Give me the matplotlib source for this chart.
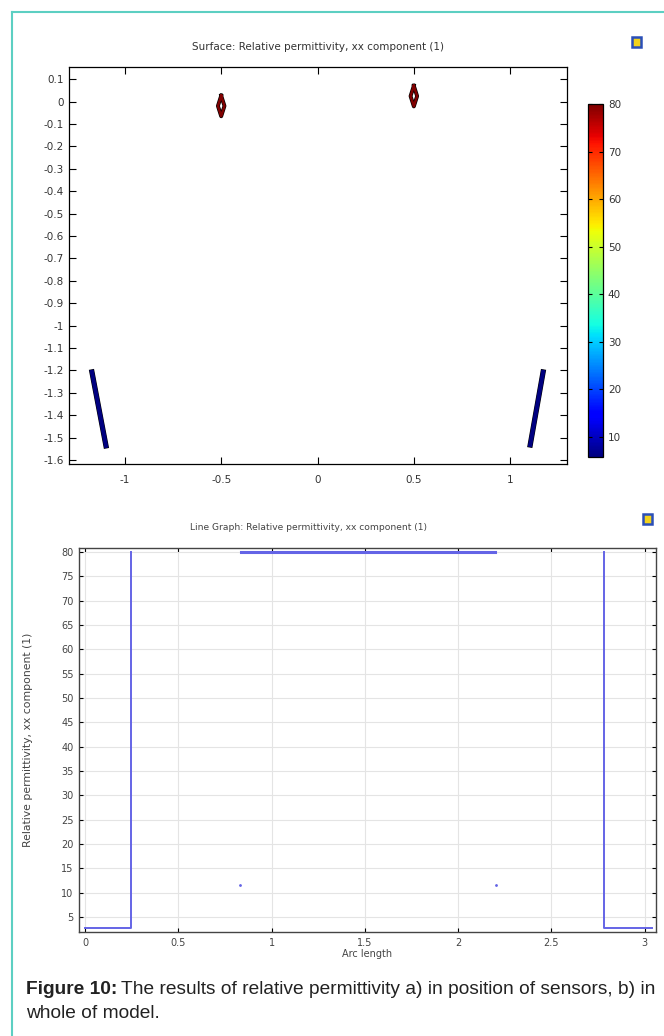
import matplotlib
matplotlib.use('Agg')
import matplotlib.pyplot as plt
import matplotlib.patheffects as pe
from matplotlib.patches import Rectangle
import numpy as np

# ---- surface plot data (sensor positions) ----
diamond_cx = [-0.5, 0.5]
diamond_cy = [-0.019, 0.025]
diamond_hw = 0.017
diamond_hh = 0.046
diamond_val = 80

bar_x = [[-1.171, -1.098], [1.171, 1.104]]
bar_y = [[-1.207, -1.537], [-1.207, -1.533]]
bar_val = 6

vmin, vmax = 5.8, 80
cb_ticks = [10, 20, 30, 40, 50, 60, 70, 80]
x_ticks_top = [-1, -0.5, 0, 0.5, 1]
y_ticks_top = np.round(np.arange(-1.6, 0.15, 0.1), 1)

# ---- line graph data ----
arc_left = [0, 0.245, 0.245, 0.248, 0.248]
eps_left = [2.7, 2.7, 5.8, 5.8, 80]
arc_mid = [0.835, 2.196]
eps_mid = [80, 80]
arc_right = [2.78, 2.78, 2.783, 2.783, 3.04]
eps_right = [80, 5.8, 5.8, 2.7, 2.7]
dot_arc = [0.83, 2.2]
dot_eps = [11.5, 11.5]
x_ticks_bot = [0, 0.5, 1, 1.5, 2, 2.5, 3]
y_ticks_bot = list(range(5, 81, 5))

caption_bold = 'Figure 10:'
caption_line1 = 'The results of relative permittivity a) in position of sensors, b) in'
caption_line2 = 'whole of model.'

W, H = 664, 1036
fig = plt.figure(figsize=(W / 100, H / 100), dpi=100)
fig.patch.set_facecolor('white')

cmap = plt.cm.jet
norm = matplotlib.colors.Normalize(vmin=vmin, vmax=vmax)
tc = '#333333'

# teal frame
fig.add_artist(plt.Line2D([12 / W, 12 / W], [0, 1 - 12 / H], color='#5ccfc2', lw=1.5))
fig.add_artist(plt.Line2D([12 / W, 1], [1 - 12 / H, 1 - 12 / H], color='#5ccfc2', lw=1.5))

# ---- top: surface ----
ax1 = fig.add_axes([69 / W, 1 - 464 / H, 498 / W, 397 / H])
for cx, cy in zip(diamond_cx, diamond_cy):
    xs = [cx, cx + diamond_hw, cx, cx - diamond_hw, cx]
    ys = [cy + diamond_hh, cy, cy - diamond_hh, cy, cy + diamond_hh]
    ax1.plot(xs, ys, color=cmap(norm(diamond_val)), lw=1.8,
             path_effects=[pe.Stroke(linewidth=2.8, foreground='black'), pe.Normal()])
for xs, ys in zip(bar_x, bar_y):
    ax1.plot(xs, ys, color=cmap(norm(bar_val)), lw=3,
             path_effects=[pe.Stroke(linewidth=3.8, foreground='black'), pe.Normal()])
ax1.set_xlim(-1.29, 1.295)
ax1.set_ylim(-1.618, 0.155)
ax1.set_xticks(x_ticks_top)
ax1.set_xticklabels(['-1', '-0.5', '0', '0.5', '1'])
ax1.set_yticks(y_ticks_top)
ax1.set_yticklabels(['0' if v == 0 else ('%g' % v) for v in y_ticks_top])
ax1.tick_params(direction='in', top=True, right=True, labelsize=7.5, colors='black',
                labelcolor=tc, length=5, width=0.8, pad=4)
ax1.tick_params(axis='x', pad=8)
for s in ax1.spines.values():
    s.set_linewidth(0.9)
ax1.set_title('Surface: Relative permittivity, xx component (1)', fontsize=7.5, color=tc, pad=12)

cax = fig.add_axes([588 / W, 1 - 457 / H, 15 / W, 353 / H])
sm = matplotlib.cm.ScalarMappable(norm=norm, cmap=cmap)
cb = fig.colorbar(sm, cax=cax, ticks=cb_ticks)
cb.ax.tick_params(direction='in', labelsize=7.5, labelcolor=tc, length=3, width=0.8, left=True)
cb.outline.set_linewidth(0.9)

# ---- bottom: line graph ----
lc = '#6464e6'
ax2 = fig.add_axes([79 / W, 1 - 932 / H, 577 / W, 384 / H])
ax2.plot(arc_left, eps_left, color=lc, lw=1.4)
ax2.plot(arc_mid, eps_mid, color=lc, lw=2.2)
ax2.plot(arc_right, eps_right, color=lc, lw=1.4)
ax2.plot(dot_arc, dot_eps, ls='none', marker='.', ms=2, color=lc)
ax2.set_xlim(-0.032, 3.06)
ax2.set_ylim(1.9, 80.8)
ax2.set_xticks(x_ticks_bot)
ax2.set_xticklabels(['0', '0.5', '1', '1.5', '2', '2.5', '3'])
ax2.set_yticks(y_ticks_bot)
ax2.grid(True, color='#e4e4e4', lw=0.8)
ax2.tick_params(direction='in', top=True, right=True, labelsize=7, labelcolor='#444444',
                length=3, width=0.8, pad=4)
for s in ax2.spines.values():
    s.set_linewidth(1.0)
    s.set_color('#444444')
ax2.set_xlabel('Arc length', fontsize=7, color='#444444', labelpad=1)
ax2.set_ylabel('Relative permittivity, xx component (1)', fontsize=7.8, color='#444444', labelpad=20)
fig.text(308 / W, 1 - 527 / H, 'Line Graph: Relative permittivity, xx component (1)',
         ha='center', va='center', fontsize=6.6, color='#444444')

# small toolbar icons
for (ix, iy) in [(632, 37), (643, 514)]:
    fig.add_artist(Rectangle((ix / W, 1 - (iy + 10) / H), 9 / W, 10 / H, transform=fig.transFigure,
                             facecolor='#f2d21c', edgecolor='#2a4fb8', lw=1.8))

# caption
renderer = fig.canvas.get_renderer()
cap_fs = 13.8
tb = fig.text(26 / W, 1 - 990 / H, caption_bold, fontsize=cap_fs, va='center', ha='left',
              family='Liberation Sans', weight='bold', color='#222222')
bw = tb.get_window_extent(renderer).width
fig.text((26 + bw + 4) / W, 1 - 990 / H, caption_line1, fontsize=cap_fs, va='center', ha='left',
         family='Liberation Sans', color='#222222')
fig.text(26 / W, 1 - 1014 / H, caption_line2, fontsize=cap_fs, va='center', ha='left',
         family='Liberation Sans', color='#222222')

fig.savefig('out.png', dpi=100)
